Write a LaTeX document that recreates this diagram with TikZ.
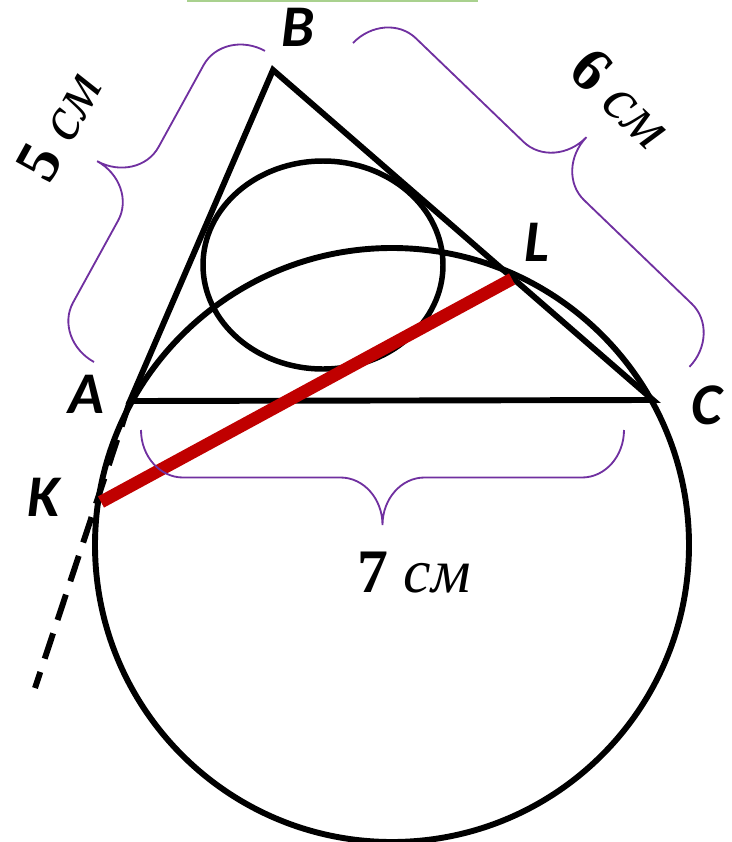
\documentclass[tikz,border=0pt]{standalone}
\usepackage{fontspec}
\setmainfont{Liberation Serif}
\newfontfamily\lblfont{Carlito}
\usetikzlibrary{calc}
\definecolor{bracepurple}{HTML}{7030A0}
\definecolor{chordred}{HTML}{C00000}
\definecolor{topgreen}{HTML}{A9D18E}

\begin{document}
\begin{tikzpicture}[x=0.025cm, y=-0.025cm,
    figline/.style={line width=4.2pt},
    dimline/.style={draw=bracepurple, line width=1.3pt},
    chord/.style={draw=chordred, line width=9pt},
    ptlabel/.style={font=\lblfont\fontsize{42}{42}\selectfont\bfseries\itshape, inner sep=0pt},
    dimlabel/.style={font=\fontsize{44}{44}\selectfont, inner sep=0pt},
    pics/dimbrace/.style 2 args={code={
        \begin{scope}[x=0.025cm, y=0.025cm]
        \draw[dimline] (0,0) arc[start angle=180, end angle=90, x radius=42, y radius=#2/2]
            -- ({#1/2-42},{#2/2}) arc[start angle=270, end angle=360, x radius=42, y radius=#2/2]
            arc[start angle=180, end angle=270, x radius=42, y radius=#2/2]
            -- ({#1-42},{#2/2}) arc[start angle=90, end angle=0, x radius=42, y radius=#2/2];
        \end{scope}}}]
    \useasboundingbox (0,0) rectangle (731,842);
    % Points
    \coordinate (A) at (130,401);
    \coordinate (B) at (273,70);
    \coordinate (C) at (653,400);
    \coordinate (O) at (392,545);
    \coordinate (I) at (323,265);
    \coordinate (K) at (101,502);
    \coordinate (L) at (512,279);
    \coordinate (tail) at (35,688);
    % Top strip
    \draw[topgreen, line width=1.4pt] (187,1) -- (478,1);
    % Circle and inscribed oval
    \draw[figline] (O) circle[radius=297];
    \draw[figline, line width=3.9pt] (I) ellipse[x radius=120, y radius=104];
    % Triangle
    \draw[figline] (A) -- (B) -- (C) -- cycle;
    % Dashed ray through K
    \draw[figline, dash pattern=on 19pt off 10pt] (A) -- (tail);
    % Chord KL
    \draw[chord] (K) -- (L);
    % Braces
    \pic[rotate=61.2] at (94,362) {dimbrace={355}{94}};
    \pic[rotate=-43.9] at (353,43) {dimbrace={467}{94}};
    \pic[rotate=180] at (624,430) {dimbrace={483}{95}};
    % Labels
    \node[ptlabel] (labA) at (86,394) {A};
    \node[ptlabel] (labB) at (298,27) {B};
    \node[ptlabel] (labC) at (707,405) {C};
    \node[ptlabel] (labK) at (44,497) {K};
    \node[ptlabel] (labL) at (537,242) {L};
    \node[dimlabel, rotate=61.2] (dimAB) at (59,126) {{\bfseries 5} {\itshape см}};
    \node[dimlabel, rotate=-43.9] (dimBC) at (621,98) {{\bfseries 6} {\itshape см}};
    \node[dimlabel, anchor=base] (dimAC) at (414,592) {{\bfseries 7} {\itshape см}};
\end{tikzpicture}
\end{document}
